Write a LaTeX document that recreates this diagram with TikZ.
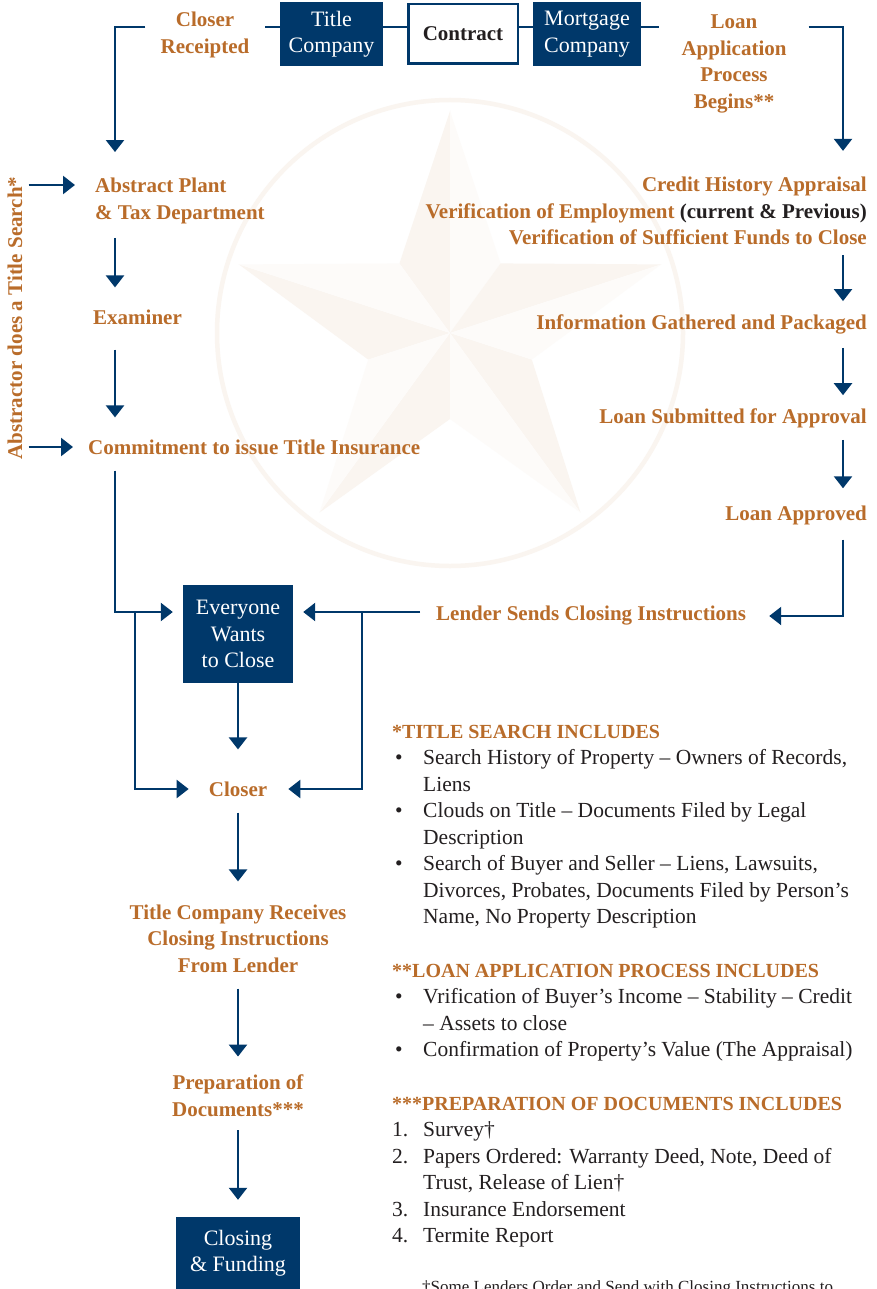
\documentclass[tikz,border=0pt]{standalone}
\usepackage{fontspec}
\setmainfont{Liberation Serif}
\usepackage{xcolor}
\usetikzlibrary{arrows.meta,calc}

\definecolor{titleblue}{RGB}{0,56,106}
\definecolor{rust}{RGB}{185,108,42}
\definecolor{ink}{RGB}{35,31,32}
\definecolor{starshade}{RGB}{250,245,240}
\definecolor{starlight}{RGB}{253,251,249}

\begin{document}
\begin{tikzpicture}[x=1pt,y=-1pt,
  lbl/.style={text=rust, inner sep=0pt, font=\fontsize{21}{26.5}\selectfont\bfseries},
  navybox/.style={fill=titleblue, text=white, inner sep=0pt, align=center,
    font=\fontsize{22}{26.5}\selectfont},
  conn/.style={titleblue, line width=2.4pt},
  flow/.style={conn, -{Triangle[width=18pt,length=12pt]}},
  note/.style={text=ink, inner sep=0pt, font=\fontsize{21.5}{26.5}\selectfont}]
\useasboundingbox (0,0) rectangle (876,1289);
\fill[white] (0,0) rectangle (876,1289);

% Faint star in the background
\coordinate (starc) at (450,333);
\draw[starshade, line width=4.5pt] (starc) circle (233pt);
\foreach \a in {90,162,234,306,378} {
  \fill[starshade] (starc) -- ($(starc)+(\a:222pt)$) -- ($(starc)+(\a+36:86pt)$) -- cycle;
  \fill[starlight] (starc) -- ($(starc)+(\a:222pt)$) -- ($(starc)+(\a-36:86pt)$) -- cycle;
}

% Define rows and columns of the connectors
\coordinate (topline) at (0,27);
\coordinate (lcol) at (115,0);
\coordinate (rcol) at (843,0);
\coordinate (absrow) at (0,185);
\coordinate (comrow) at (0,447);
\coordinate (evrow) at (0,612);
\coordinate (ljoin) at (135,612);
\coordinate (rjoin) at (362,612);

% Top row
\node[lbl, align=center, inner xsep=15pt] (receipted) at (205,35) {Closer\\Receipted};
\node[navybox, minimum width=103pt, minimum height=64pt] (titleco) at (331.5,34) {Title\\Company};
\node[draw=titleblue, line width=2.5pt, fill=white, text=ink, inner sep=0pt,
  minimum width=109.5pt, minimum height=59.5pt,
  font=\fontsize{21}{26.5}\selectfont\bfseries] (contract) at (463,34) {Contract};
\node[navybox, minimum width=108pt, minimum height=64pt] (mortgage) at (587,34) {Mortgage\\Company};
\node[lbl, align=center, inner xsep=22pt] (loanapp) at (734,64) {Loan\\Application\\Process\\Begins**};

% Title side
\node[lbl, rotate=90] (tsearch) at (15,318) {Abstractor does a Title Search*};
\node[lbl, align=left, anchor=west] (abstract) at (95,201) {Abstract Plant\\\& Tax Department};
\node[lbl, anchor=west] (examiner) at (93,317) {Examiner};
\node[lbl, anchor=west] (commit) at (88,447) {Commitment to issue Title Insurance};

% Lender side
\node[lbl, align=right, anchor=east] (credit) at (867,211) {Credit History Appraisal\\
  Verification of Employment {\color{ink}(current \& Previous)}\\
  Verification of Sufficient Funds to Close};
\node[lbl, anchor=east] (infogath) at (867,324) {Information Gathered and Packaged};
\node[lbl, anchor=east] (submitted) at (867,418) {Loan Submitted for Approval};
\node[lbl, anchor=east] (approved) at (867,515) {Loan Approved};
\node[lbl, anchor=west] (lender) at (436,616) {Lender Sends Closing Instructions};

% Closing column
\node[navybox, minimum width=110pt, minimum height=98pt] (everyone) at (238,634) {Everyone\\Wants\\to Close};
\node[lbl] (closer) at (238,789) {Closer};
\node[lbl, align=center] (tcreceives) at (238,938.5) {Title Company Receives\\Closing Instructions\\From Lender};
\node[lbl, align=center] (prepdocs) at (238,1095.5) {Preparation of\\Documents***};
\node[navybox, minimum width=124pt, minimum height=72pt] (closing) at (238,1253) {Closing\\\& Funding};

% Notes
\node[note, anchor=base west] (tsnotes) at (392,738) {%
\begin{tabular}[t]{@{}p{31pt}@{}l@{}}
\multicolumn{2}{@{}l@{}}{\color{rust}\fontsize{20}{26.5}\selectfont\bfseries *TITLE SEARCH INCLUDES}\\
\hspace*{3pt}\textbullet & Search History of Property -- Owners of Records,\\
 & Liens\\
\hspace*{3pt}\textbullet & Clouds on Title -- Documents Filed by Legal\\
 & Description\\
\hspace*{3pt}\textbullet & Search of Buyer and Seller -- Liens, Lawsuits,\\
 & Divorces, Probates, Documents Filed by Person’s\\
 & Name, No Property Description
\end{tabular}};
\node[note, anchor=base west] (lanotes) at (392,977) {%
\begin{tabular}[t]{@{}p{31pt}@{}l@{}}
\multicolumn{2}{@{}l@{}}{\color{rust}\fontsize{20}{26.5}\selectfont\bfseries **LOAN APPLICATION PROCESS INCLUDES}\\
\hspace*{3pt}\textbullet & Vrification of Buyer’s Income -- Stability -- Credit\\
 & -- Assets to close\\
\hspace*{3pt}\textbullet & Confirmation of Property’s Value (The Appraisal)
\end{tabular}};
\node[note, anchor=base west] (pdnotes) at (392,1110) {%
\begin{tabular}[t]{@{}p{31pt}@{}l@{}}
\multicolumn{2}{@{}l@{}}{\color{rust}\fontsize{20}{26.5}\selectfont\bfseries ***PREPARATION OF DOCUMENTS INCLUDES}\\
1. & Survey\textdagger\\
2. & Papers Ordered: Warranty Deed, Note, Deed of\\
 & Trust, Release of Lien\textdagger\\
3. & Insurance Endorsement\\
4. & Termite Report
\end{tabular}};
\node[note, font=\fontsize{17}{20}\selectfont, anchor=base west] (dagnote) at (422,1292)
  {\textdagger Some Lenders Order and Send with Closing Instructions to};

% Draw top row links
\draw[conn] (titleco.east |- topline) -- (contract.west |- topline);
\draw[conn] (contract.east |- topline) -- (mortgage.west |- topline);
\draw[conn] (titleco.west |- topline) -- (receipted.east |- topline);
\draw[conn] (mortgage.east |- topline) -- (loanapp.west |- topline);
\draw[flow, shorten >=26pt] (receipted.west |- topline) -| (abstract.north -| lcol);
\draw[flow, shorten >=26pt] (loanapp.east |- topline) -| (credit.north -| rcol);

% Draw title side arrows
\draw[flow, shorten <=6pt, shorten >=20pt] (tsearch.south |- absrow) -- (abstract.west |- absrow);
\draw[flow, shorten <=6pt, shorten >=15pt] (tsearch.south |- comrow) -- (commit.west |- comrow);
\draw[flow, shorten <=14pt, shorten >=22pt] (abstract.south -| lcol) -- (examiner.north -| lcol);
\draw[flow, shorten <=25pt, shorten >=22pt] (examiner.south -| lcol) -- (commit.north -| lcol);
\draw[flow, shorten <=16pt, shorten >=10pt] (commit.south -| lcol) |- (everyone.west |- evrow);
\draw[flow, shorten >=20pt] (ljoin) |- (closer.west);

% Draw lender side arrows
\draw[flow, shorten <=10pt, shorten >=13pt] (credit.south -| rcol) -- (infogath.north -| rcol);
\draw[flow, shorten <=14pt, shorten >=13pt] (infogath.south -| rcol) -- (submitted.north -| rcol);
\draw[flow, shorten <=12pt, shorten >=17pt] (submitted.south -| rcol) -- (approved.north -| rcol);
\draw[flow, shorten <=15pt, shorten >=23pt] (approved.south -| rcol) |- (lender.east);
\draw[flow, shorten <=16pt, shorten >=10pt] (lender.west |- evrow) -- (everyone.east |- evrow);
\draw[flow, shorten >=21pt] (rjoin) |- (closer.east);

% Draw closing column arrows
\draw[flow, shorten >=32pt] (everyone.south) -- (closer.north);
\draw[flow, shorten <=16pt, shorten >=23pt] (closer.south) -- (tcreceives.north);
\draw[flow, shorten <=16pt, shorten >=18pt] (tcreceives.south) -- (prepdocs.north);
\draw[flow, shorten <=14pt, shorten >=17pt] (prepdocs.south) -- (closing.north);

\end{tikzpicture}
\end{document}
